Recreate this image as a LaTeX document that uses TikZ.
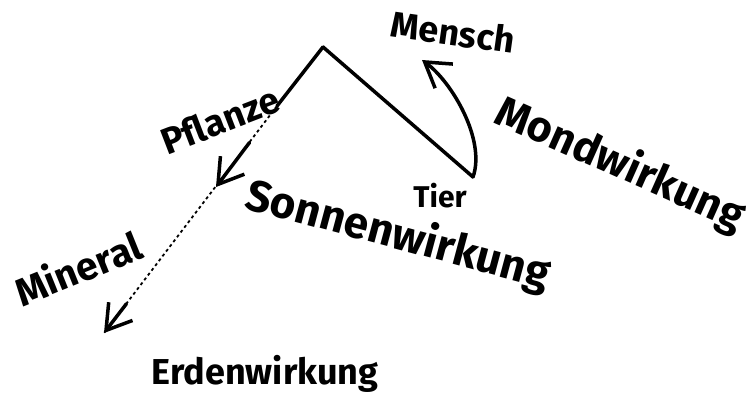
\documentclass[tikz,border=0pt]{standalone}
\usepackage{fontspec}
\setmainfont{Fira Sans}
\usetikzlibrary{arrows.meta,calc}
\begin{document}
\begin{tikzpicture}[x=1pt,y=-1pt,
  lbl/.style={font=\bfseries\fontsize{#1}{#1}\selectfont, inner sep=0pt},
  stroke/.style={line width=3.5pt, line cap=round, line join=round},
  barb/.style={-{Straight Barb[length=24pt,width=30pt,line width=3.5pt]}},
  dotted line/.style={line width=1.8pt, dash pattern=on 3pt off 3pt}]
\useasboundingbox (0,0) rectangle (750,409);
\coordinate (apex) at (323,47);
\coordinate (solidend) at (277,106);
\coordinate (mid) at (216,187);
\coordinate (low) at (104,333);
\coordinate (tierpt) at (473,177);
\coordinate (menschtip) at (422,60);
% left branch
\draw[stroke] (apex) -- (solidend);
\draw[dotted line] (solidend) -- (low);
\draw[stroke, barb] ($(solidend)!0.45!(mid)$) -- (mid);
\draw[stroke, barb] ($(mid)!0.8!(low)$) -- (low);
% right branch
\draw[stroke] (apex) -- (tierpt);
\draw[stroke, barb] (tierpt) .. controls (486,140) and (452,82) .. (menschtip);
% labels
\node[lbl=36, rotate=-8] (mensch) at (453,32) {Mensch};
\node[lbl=37, rotate=21] (pflanze) at (220,120) {Pflanze};
\node[lbl=39, rotate=22] (mineral) at (78,268) {Mineral};
\node[lbl=44, rotate=-15] (sonne) at (398,236) {Sonnenwirkung};
\node[lbl=30] (tier) at (440,196) {Tier};
\node[lbl=43, rotate=-24] (mond) at (620,165) {Mondwirkung};
\node[lbl=36] (erde) at (265,374) {Erdenwirkung};
\end{tikzpicture}
\end{document}
